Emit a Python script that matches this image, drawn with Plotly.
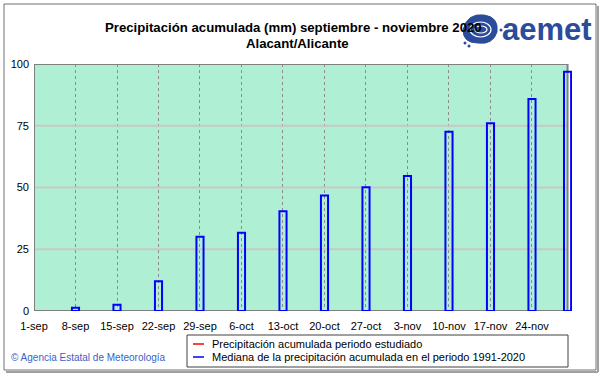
import plotly.graph_objects as go

# ---------------- data ----------------
bar_dates = ['2020-09-08', '2020-09-15', '2020-09-22', '2020-09-29', '2020-10-06',
             '2020-10-13', '2020-10-20', '2020-10-27', '2020-11-03', '2020-11-10',
             '2020-11-17', '2020-11-24', '2020-11-30']
median_values = [1.3, 2.5, 12.0, 30.1, 31.7, 40.4, 46.8, 50.1, 54.7, 72.6, 76.0, 85.8, 96.9]
tick_dates = ['2020-09-01', '2020-09-08', '2020-09-15', '2020-09-22', '2020-09-29',
              '2020-10-06', '2020-10-13', '2020-10-20', '2020-10-27', '2020-11-03',
              '2020-11-10', '2020-11-17', '2020-11-24']
tick_labels = ['1-sep', '8-sep', '15-sep', '22-sep', '29-sep', '6-oct', '13-oct',
               '20-oct', '27-oct', '3-nov', '10-nov', '17-nov', '24-nov']
y_ticks = [0, 25, 50, 75, 100]
y_grid = [25, 50, 75]
title_line1 = 'Precipitación acumulada (mm) septiembre - noviembre 2020'
title_line2 = 'Alacant/Alicante'
legend_labels = ['Precipitación acumulada periodo estudiado',
                 'Mediana de la precipitación acumulada en el periodo 1991-2020']
legend_colors = ['#ff0000', '#0000ff']

# ---------------- geometry ----------------
FW, FH = 601, 374
ML, MR, MT, MB = 34, 29, 64, 63
PW = FW - ML - MR
PH = FH - MT - MB


def px(x):
    return (x - ML) / PW


def py(y):
    return (FH - MB - y) / PH


FONT = 'Liberation Sans, Arial, sans-serif'
DAY_MS = 86400000
LOGO = '#2b4c9b'

fig = go.Figure()
fig.add_trace(go.Bar(
    x=bar_dates, y=median_values, width=1.2 * DAY_MS,
    marker=dict(color='rgba(0,0,0,0)', line=dict(color='#0000ff', width=2)),
    showlegend=False, hoverinfo='x+y'))

shapes = []
# outer frame with shadow
shapes.append(dict(type='line', xref='paper', yref='paper', x0=px(6), x1=px(598), y0=py(372), y1=py(372),
                   line=dict(color='#a0a0a0', width=2)))
shapes.append(dict(type='line', xref='paper', yref='paper', x0=px(598), x1=px(598), y0=py(372), y1=py(6),
                   line=dict(color='#a0a0a0', width=2)))
shapes.append(dict(type='rect', xref='paper', yref='paper', x0=px(4), x1=px(596), y0=py(370), y1=py(4),
                   line=dict(color='#707070', width=1)))
# plot background
shapes.append(dict(type='rect', xref='x', yref='y', x0=tick_dates[0], x1='2020-11-30', y0=0, y1=100,
                   fillcolor='#aff0d4', line=dict(width=0), layer='below'))
for g in y_grid:
    shapes.append(dict(type='line', xref='x', yref='y', x0=tick_dates[0], x1='2020-11-30', y0=g, y1=g,
                       line=dict(color='#c8c8c8', width=2), layer='between'))
shapes.append(dict(type='rect', xref='x', yref='y', x0=tick_dates[0], x1='2020-11-30', y0=0, y1=100,
                   line=dict(color='#808080', width=2), layer='between'))
# legend box
shapes.append(dict(type='rect', xref='paper', yref='paper', x0=px(187), x1=px(568), y0=py(367), y1=py(335),
                   fillcolor='white', line=dict(color='#404040', width=1)))
for i, c in enumerate(legend_colors):
    yy = py(344 + 13 * i)
    shapes.append(dict(type='line', xref='paper', yref='paper', x0=px(193), x1=px(204), y0=yy, y1=yy,
                       line=dict(color=c, width=1.5)))
# logo swirl
shapes.append(dict(type='path', xref='paper', yref='paper',
                   path='M {} {} Q {} {} {} {} Q {} {} {} {} Q {} {} {} {} Q {} {} {} {} Z'.format(
                       px(463), py(30), px(467), py(13), px(484), py(15),
                       px(499), py(17), px(497), py(32),
                       px(493), py(45), px(478), py(43),
                       px(463), py(43), px(463), py(30)),
                   fillcolor=LOGO, line=dict(color=LOGO, width=1)))
for r in [(470, 22, 491, 37), (475, 26, 487, 33)]:
    shapes.append(dict(type='circle', xref='paper', yref='paper', x0=px(r[0]), x1=px(r[2]),
                       y0=py(r[3]), y1=py(r[1]), line=dict(color='white', width=1.2)))
for d in [(465, 43), (501, 30), (469, 46)]:
    shapes.append(dict(type='circle', xref='paper', yref='paper', x0=px(d[0] - 1.5), x1=px(d[0] + 1.5),
                       y0=py(d[1] + 1.5), y1=py(d[1] - 1.5), fillcolor=LOGO,
                       line=dict(width=0)))

annotations = [
    dict(text='<b>' + title_line1 + '</b>', x=px(293), y=py(27), xref='paper', yref='paper',
         showarrow=False, xanchor='center', yanchor='middle', font=dict(size=13.2, color='black', family=FONT)),
    dict(text='<b>' + title_line2 + '</b>', x=px(297), y=py(44), xref='paper', yref='paper',
         showarrow=False, xanchor='center', yanchor='middle', font=dict(size=13.2, color='black', family=FONT)),
    dict(text='<b>aemet</b>', x=px(500), y=py(29), xref='paper', yref='paper',
         showarrow=False, xanchor='left', yanchor='middle',
         font=dict(size=31, color=LOGO, family=FONT)),
    dict(text='© Agencia Estatal de Meteorología', x=px(9), y=py(357), xref='paper', yref='paper',
         showarrow=False, xanchor='left', yanchor='middle',
         font=dict(size=10, color='#3a62c8', family=FONT)),
]
for i, t in enumerate(legend_labels):
    annotations.append(dict(text=t, x=px(210), y=py(344 + 13 * i), xref='paper', yref='paper',
                            showarrow=False, xanchor='left', yanchor='middle',
                            font=dict(size=11, color='black', family=FONT)))

fig.update_layout(
    width=FW, height=FH,
    margin=dict(l=ML, r=MR, t=MT, b=MB, pad=0),
    paper_bgcolor='white', plot_bgcolor='white',
    font=dict(family=FONT, size=11, color='black'),
    showlegend=False,
    xaxis=dict(type='date', range=['2020-09-01', '2020-11-30 18:00'],
               tickmode='array', tickvals=tick_dates, ticktext=tick_labels,
               showgrid=True, gridcolor='#8c8c8c', griddash='3px,3px', gridwidth=1,
               zeroline=False, showline=False, ticks='', tickfont=dict(size=11),
               ticklabelstandoff=7),
    yaxis=dict(range=[0, 100], tickmode='array', tickvals=y_ticks,
               showgrid=False, zeroline=False, showline=False, ticks='',
               tickfont=dict(size=11), ticklabelstandoff=4),
    shapes=shapes,
    annotations=annotations,
)

fig.write_html('out.html', config={'displayModeBar': False},
               post_script="document.body.style.margin='0';document.body.style.overflow='hidden';")
